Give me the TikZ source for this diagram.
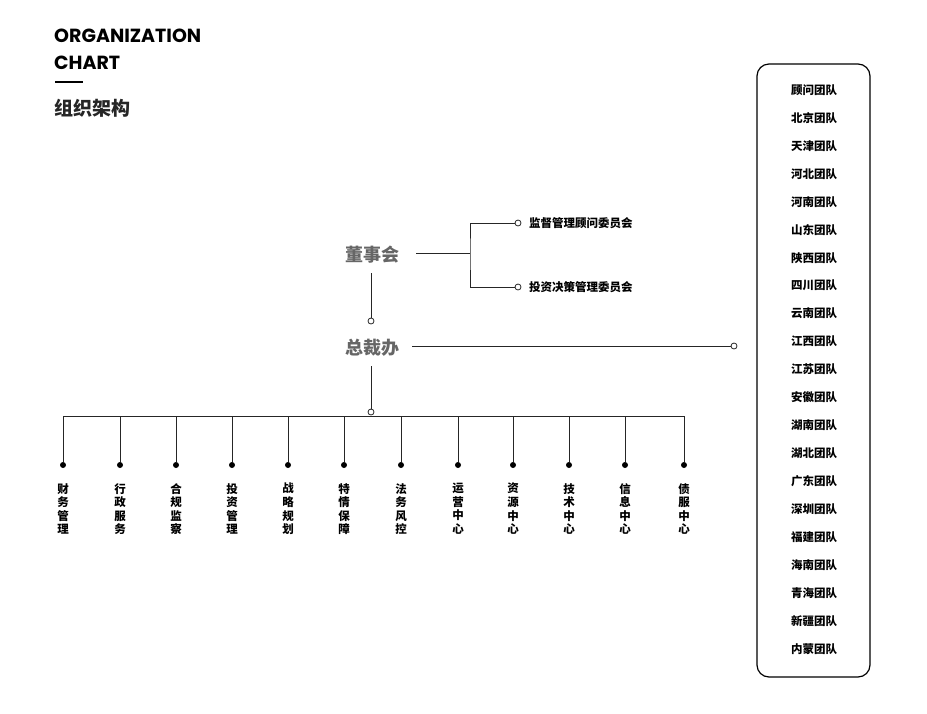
\documentclass[tikz,border=0pt]{standalone}
\usepackage{fontspec}
\setmainfont{Poppins}
\newfontfamily\cjk{Noto Sans CJK SC}
\begin{document}
\begin{tikzpicture}[x=1pt,y=-1pt,
  ln/.style={line width=1pt,black!85},
  oc/.style={circle,draw=black!85,fill=white,line width=0.8pt,inner sep=0pt,minimum size=6pt},
  dc/.style={circle,fill=black,inner sep=0pt,minimum size=6pt},
  big/.style={font=\cjk\bfseries\fontsize{18}{20}\selectfont,text=black!60,inner sep=0pt},
  sm/.style={font=\cjk\bfseries\fontsize{11.5}{13.5}\selectfont,inner sep=0pt},
  vt/.style={font=\cjk\bfseries\fontsize{11.5}{13.6}\selectfont,inner sep=0pt,align=center,anchor=north}]
\useasboundingbox (0,0) rectangle (927,713);
\node[anchor=west,inner sep=0pt,font=\bfseries\fontsize{19}{20}\selectfont] (t1) at (54,36) {ORGANIZATION};
\node[anchor=west,inner sep=0pt,font=\bfseries\fontsize{19}{20}\selectfont] (t2) at (54,63) {CHART};
\draw[line width=1.2pt] (55,82) -- (83,82);
\node[anchor=west,inner sep=0pt,font=\cjk\bfseries\fontsize{19}{20}\selectfont,text=black!85] (t3) at (54,108) {组织架构};

\node[big] (dsh) at (372,255) {董事会};
\node[big] (zcb) at (372,348) {总裁办};
\node[oc] (c1) at (518,223) {};
\node[oc] (c2) at (518,287) {};
\node[sm,anchor=west] (w1) at (529,223) {监督管理顾问委员会};
\node[sm,anchor=west] (w2) at (529,287) {投资决策管理委员会};
\coordinate (br) at (470,253);
\draw[ln] (416,253) -- (br);
\draw[ln] (c1) -| (br) |- (c2);
\node[oc] (c3) at (371,321) {};
\draw[ln] (371,273) -- (c3);
\node[oc] (c4) at (734,346) {};
\draw[ln] (412,346) -- (c4);
\node[oc] (c5) at (371,412) {};
\draw[ln] (371,366) -- (c5);
\draw[ln] (63,416) -- (684,416);
\foreach \x/\t [count=\i] in {63/财\\务\\管\\理,120/行\\政\\服\\务,176/合\\规\\监\\察,232/投\\资\\管\\理,288/战\\略\\规\\划,344/特\\情\\保\\障,401/法\\务\\风\\控,458/运\\营\\中\\心,513/资\\源\\中\\心,569/技\\术\\中\\心,625/信\\息\\中\\心,684/债\\服\\中\\心}{
  \node[dc] (d\i) at (\x,465) {};
  \draw[ln] (\x,416) -- (d\i);
  \node[vt] (v\i) at (\x,483) {\t};
}
\draw[line width=1.2pt,rounded corners=12pt] (757,64) rectangle (870,677);
\foreach \t [count=\i from 0] in {顾问团队,北京团队,天津团队,河北团队,河南团队,山东团队,陕西团队,四川团队,云南团队,江西团队,江苏团队,安徽团队,湖南团队,湖北团队,广东团队,深圳团队,福建团队,海南团队,青海团队,新疆团队,内蒙团队}{
  \node[sm] (r\i) at (814,{90+27.95*\i}) {\t};
}
\end{tikzpicture}
\end{document}
